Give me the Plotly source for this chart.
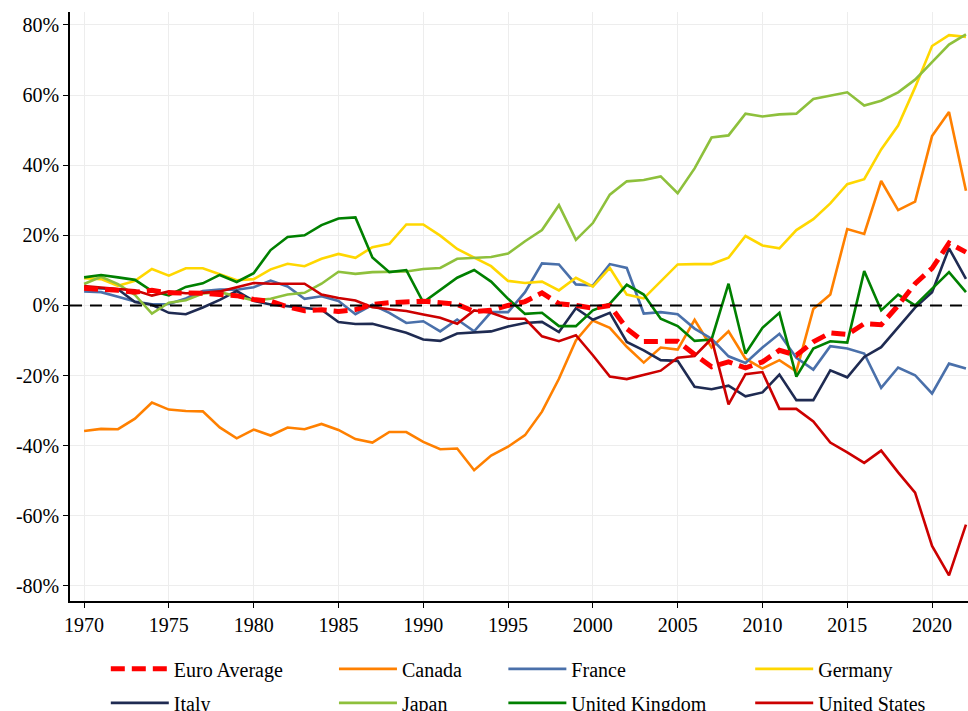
import plotly.graph_objects as go

years = list(range(1970, 2023))

euro_average = [4.9, 4.7, 4.3, 3.8, 4.3, 3.6, 3.6, 3.5, 3.1, 2.8,
                1.7, 1.2, -0.4, -1.5, -1.2, -1.7, -1.2, 0.3, 0.8, 1.0,
                1.2, 0.8, 0.3, -1.7, -1.4, 0.0, 1.1, 3.6, 0.5, 0.0,
                -0.8, 0.0, -6.6, -10.3, -10.2, -10.2, -14.0, -17.5, -16.1, -17.8,
                -16.1, -12.8, -14.2, -10.4, -7.8, -8.3, -5.2, -5.5, 0.0, 6.2,
                10.6, 17.8, 15.2]
canada = [-35.8, -35.2, -35.3, -32.3, -27.7, -29.7, -30.1, -30.2, -34.8, -37.9,
          -35.4, -37.1, -34.8, -35.3, -33.8, -35.5, -38.1, -39.1, -36.1, -36.1,
          -38.9, -41.0, -40.8, -47.0, -42.8, -40.3, -37.0, -30.3, -20.9, -10.0,
          -4.3, -6.4, -11.8, -16.3, -12.0, -12.6, -4.1, -12.0, -7.4, -15.2,
          -18.0, -15.6, -18.8, -1.0, 3.1, 21.8, 20.4, 35.5, 27.2, 29.6,
          48.3, 55.2, 32.7]
france = [4.0, 3.8, 2.5, 1.1, 0.3, 0.4, 2.0, 4.1, 4.5, 4.5,
          5.2, 7.1, 5.4, 1.9, 2.6, 1.3, -2.5, 0.2, -2.1, -5.0,
          -4.5, -7.4, -4.0, -7.4, -1.9, -1.9, 3.8, 12.0, 11.7, 6.0,
          5.7, 11.8, 10.7, -2.3, -1.9, -2.5, -6.6, -9.5, -14.5, -16.4,
          -12.0, -8.1, -14.9, -18.3, -11.6, -12.3, -13.7, -23.5, -17.7, -19.9,
          -25.1, -16.6, -18.0]
germany = [7.8, 7.5, 5.6, 7.0, 10.4, 8.5, 10.6, 10.6, 8.9, 7.2,
           7.5, 10.3, 11.9, 11.2, 13.3, 14.7, 13.6, 16.6, 17.6, 23.1,
           23.1, 19.9, 16.1, 13.7, 11.2, 7.0, 6.4, 6.8, 4.3, 7.9,
           5.4, 10.7, 3.1, 2.0, 7.0, 11.7, 11.8, 11.8, 13.6, 19.8,
           17.1, 16.3, 21.5, 24.6, 29.1, 34.6, 36.0, 44.5, 51.3, 62.2,
           74.0, 77.1, 76.6]
italy = [5.1, 4.8, 4.6, 1.0, 0.2, -2.1, -2.5, -0.6, 1.6, 4.1,
         1.3, 0.3, -0.2, -0.9, -1.2, -4.7, -5.3, -5.2, -6.4, -7.8,
         -9.7, -10.1, -8.0, -7.8, -7.4, -6.0, -5.0, -4.7, -7.6, -0.8,
         -4.1, -2.1, -10.4, -12.8, -15.6, -15.8, -23.2, -23.9, -22.9, -25.9,
         -24.8, -19.7, -27.0, -27.0, -18.5, -20.5, -14.7, -11.9, -6.4, -0.6,
         3.8, 16.3, 7.6]
japan = [6.1, 8.2, 6.1, 3.0, -2.3, 0.8, 1.5, 3.4, 3.8, 2.6,
         1.4, 1.9, 3.1, 3.6, 6.2, 9.6, 9.0, 9.5, 9.5, 9.7,
         10.4, 10.7, 13.3, 13.6, 13.8, 14.8, 18.3, 21.5, 28.6, 18.7,
         23.5, 31.6, 35.4, 35.8, 36.8, 32.0, 39.1, 47.9, 48.5, 54.7,
         53.9, 54.5, 54.7, 58.9, 59.8, 60.8, 57.0, 58.4, 60.8, 64.4,
         69.4, 74.4, 77.3]
united_kingdom = [8.0, 8.7, 8.0, 7.3, 4.1, 2.9, 5.3, 6.3, 8.7, 6.7,
                  9.2, 15.8, 19.5, 20.0, 22.9, 24.8, 25.1, 13.7, 9.5, 10.1,
                  0.9, 4.3, 7.9, 10.1, 6.8, 1.9, -2.4, -2.1, -5.9, -5.9,
                  -1.4, 0.5, 5.9, 3.1, -3.8, -5.9, -10.1, -9.7, 6.2, -13.7,
                  -6.4, -2.1, -20.3, -12.3, -10.2, -10.6, 9.8, -1.4, 3.1, 0.0,
                  4.7, 9.5, 3.8]
united_states = [5.5, 5.0, 4.7, 4.3, 2.8, 4.0, 3.5, 3.6, 4.0, 5.2,
                 6.4, 6.2, 6.2, 6.2, 3.1, 2.1, 1.4, -0.5, -1.1, -1.6,
                 -2.6, -3.5, -5.2, -1.4, -2.1, -3.8, -3.8, -8.8, -10.2, -8.5,
                 -14.2, -20.3, -21.0, -19.9, -18.6, -14.9, -14.4, -9.5, -28.2, -19.6,
                 -19.0, -29.5, -29.5, -33.1, -39.1, -41.9, -44.9, -41.4, -47.6, -53.4,
                 -68.6, -77.0, -62.5]

x_ticks = [1970, 1975, 1980, 1985, 1990, 1995, 2000, 2005, 2010, 2015, 2020]
y_ticks = [-80, -60, -40, -20, 0, 20, 40, 60, 80]
y_tick_text = ["-80%", "-60%", "-40%", "-20%", "0%", "20%", "40%", "60%", "80%"]

FONT = "Liberation Serif, Times New Roman, serif"

# (name, values, color, width, dash, legend, rank)
series = [
    ("Canada", canada, "#ff8000", 2.6, "solid", "legend2", 1),
    ("France", france, "#4a70aa", 2.6, "solid", "legend3", 1),
    ("Germany", germany, "#ffd700", 2.6, "solid", "legend4", 1),
    ("Italy", italy, "#1f2b52", 2.6, "solid", "legend", 2),
    ("Japan", japan, "#8ec03c", 2.6, "solid", "legend2", 2),
    ("United Kingdom", united_kingdom, "#008000", 2.6, "solid", "legend3", 2),
    ("United States", united_states, "#cc0000", 2.6, "solid", "legend4", 2),
    ("Euro Average", euro_average, "#ff0000", 5, "14px,7px", "legend", 1),
]

fig = go.Figure()
for name, vals, color, w, dash, leg, rank in series:
    fig.add_trace(go.Scatter(
        x=years, y=vals, mode="lines", name=name,
        line=dict(color=color, width=w, dash=dash),
        legend=leg, legendrank=rank, legendgroup=name,
    ))

fig.add_shape(type="line", xref="paper", x0=0, x1=1, yref="y", y0=0, y1=0,
              line=dict(color="#000000", width=2, dash="12px,8px"),
              layer="above", opacity=1)

leg_common = dict(
    orientation="v", xref="container", yref="container",
    yanchor="top", xanchor="left", y=0.0867,
    font=dict(family=FONT, size=20, color="black"),
    bgcolor="rgba(0,0,0,0)", itemwidth=58, tracegroupgap=5,
)

fig.update_layout(
    width=968, height=711,
    margin=dict(l=70, r=0, t=12, b=110, autoexpand=False),
    paper_bgcolor="white", plot_bgcolor="white",
    font=dict(family=FONT, size=20, color="black"),
    showlegend=True,
    legend=dict(x=0.1093, **leg_common),
    legend2=dict(x=0.345, **leg_common),
    legend3=dict(x=0.520, **leg_common),
    legend4=dict(x=0.775, **leg_common),
    xaxis=dict(
        range=[1969.17, 2022.12], tickvals=x_ticks, ticks="outside", ticklen=5,
        tickcolor="black", showline=True, linecolor="black", linewidth=1.5,
        showgrid=True, gridcolor="#ededed", gridwidth=1, zeroline=False,
        tickfont=dict(family=FONT, size=20), automargin=False,
    ),
    yaxis=dict(
        range=[-84.3, 83.7], tickvals=y_ticks, ticktext=y_tick_text,
        ticks="outside", ticklen=5, tickcolor="black", showline=True,
        linecolor="black", linewidth=1.5, showgrid=True, gridcolor="#ededed",
        gridwidth=1, zeroline=False, tickfont=dict(family=FONT, size=20),
        automargin=False,
    ),
)

fig.write_html(
    "out.html",
    config={"displayModeBar": False},
    post_script="document.body.style.margin='0';document.body.style.overflow='hidden';",
)
